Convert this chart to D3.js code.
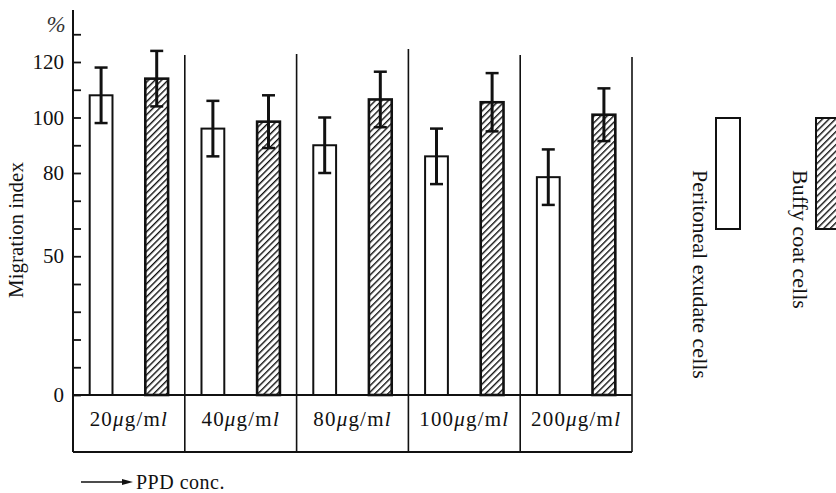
<!DOCTYPE html>
<html>
<head>
<meta charset="utf-8">
<script src="https://cdn.jsdelivr.net/npm/d3@7"></script>
<style>
  body { margin: 0; background: #fff; }
  svg { display: block; font-family: "Liberation Serif", "DejaVu Serif", serif; }
</style>
</head>
<body>
<svg id="chart" width="836" height="493"></svg>
<script>
// PPD concentrations (µg/ml)
var concs = ["20", "40", "80", "100", "200"];
var series = ["Peritoneal exudate cells", "Buffy coat cells"];

// migration index (%) and error half-widths
var peritoneal = [108, 96, 90, 86, 78.5];
var peritonealErr = [10, 10, 10, 10, 10];
var buffy = [114, 98.5, 106.5, 105.5, 101];
var buffyErr = [10, 9.5, 10, 10.5, 9.5];

var labeledTicks = [0, 50, 80, 100, 120];
var allTicks = d3.range(0, 131, 10);

var svg = d3.select("#chart");

var defs = svg.append("defs");
var hatch = defs.append("pattern")
    .attr("id", "hatch")
    .attr("patternUnits", "userSpaceOnUse")
    .attr("width", 4.6)
    .attr("height", 4.6)
    .attr("patternTransform", "rotate(45)");
hatch.append("rect").attr("width", 4.6).attr("height", 4.6).attr("fill", "#fff");
hatch.append("line")
    .attr("x1", 0).attr("y1", 0).attr("x2", 0).attr("y2", 4.6)
    .attr("stroke", "#111").attr("stroke-width", 2.8);

var left = 73, baseY = 395, boxBottom = 452, right = 632;

var x = d3.scaleBand().domain(concs).range([left, right]);
var inner = d3.scaleBand().domain(series).range([0, x.bandwidth()])
    .paddingInner(0.59).paddingOuter(0.3);
var y = d3.scaleLinear().domain([0, 130]).range([baseY, 34.25]);

var rows = concs.map(function(c, i) {
    return [
        {conc: c, s: series[0], v: peritoneal[i], e: peritonealErr[i]},
        {conc: c, s: series[1], v: buffy[i], e: buffyErr[i]}
    ];
});
var flat = d3.merge(rows);

// group separators (run through the label box)
svg.append("g").selectAll("line")
    .data(concs)
    .join("line")
    .attr("x1", function(d) { return x(d) + x.bandwidth(); })
    .attr("x2", function(d) { return x(d) + x.bandwidth(); })
    .attr("y1", function(d, i) { return [55, 54, 49, 55, 57][i]; })
    .attr("y2", boxBottom)
    .attr("stroke", "#111")
    .attr("stroke-width", 1.6);

// bars
svg.append("g").selectAll("rect")
    .data(flat)
    .join("rect")
    .attr("x", function(d) { return x(d.conc) + inner(d.s); })
    .attr("y", function(d) { return y(d.v); })
    .attr("width", inner.bandwidth())
    .attr("height", function(d) { return baseY - y(d.v); })
    .attr("fill", function(d) { return d.s === series[0] ? "#fff" : "url(#hatch)"; })
    .attr("stroke", "#111")
    .attr("stroke-width", function(d) { return d.s === series[0] ? 2 : 2.6; });

// error bars
var err = svg.append("g").selectAll("g")
    .data(flat)
    .join("g")
    .attr("transform", function(d) {
        return "translate(" + (x(d.conc) + inner(d.s) + inner.bandwidth() / 2) + ",0)";
    });
err.append("line")
    .attr("y1", function(d) { return y(d.v + d.e); })
    .attr("y2", function(d) { return y(d.v - d.e); })
    .attr("stroke", "#111")
    .attr("stroke-width", 3);
err.append("line")
    .attr("x1", -6.5).attr("x2", 6.5)
    .attr("y1", function(d) { return y(d.v + d.e); })
    .attr("y2", function(d) { return y(d.v + d.e); })
    .attr("stroke", "#111")
    .attr("stroke-width", 2.5);
err.append("line")
    .attr("x1", -6.5).attr("x2", 6.5)
    .attr("y1", function(d) { return y(d.v - d.e); })
    .attr("y2", function(d) { return y(d.v - d.e); })
    .attr("stroke", "#111")
    .attr("stroke-width", 2.5);

// y axis, ticks point inward
var yAxis = d3.axisLeft(y)
    .tickValues(allTicks)
    .tickSize(-8)
    .tickPadding(9)
    .tickFormat(function(d) { return labeledTicks.indexOf(d) >= 0 ? d : ""; });
var ag = svg.append("g")
    .attr("transform", "translate(" + left + ",0)")
    .call(yAxis);
ag.select(".domain").remove();
ag.selectAll(".tick line").attr("stroke", "#111").attr("stroke-width", 1.8);
ag.selectAll(".tick text")
    .attr("font-family", "Liberation Serif")
    .attr("font-size", 21)
    .attr("fill", "#111");

svg.append("line")
    .attr("x1", left).attr("x2", left)
    .attr("y1", 10).attr("y2", boxBottom)
    .attr("stroke", "#111").attr("stroke-width", 2);

// baseline and label box
svg.append("line")
    .attr("x1", left).attr("x2", right)
    .attr("y1", baseY).attr("y2", baseY)
    .attr("stroke", "#111").attr("stroke-width", 2.2);
svg.append("line")
    .attr("x1", left).attr("x2", right)
    .attr("y1", boxBottom).attr("y2", boxBottom)
    .attr("stroke", "#111").attr("stroke-width", 2);

var catText = svg.append("g").selectAll("text")
    .data(concs)
    .join("text")
    .attr("x", function(d) { return x(d) + x.bandwidth() / 2; })
    .attr("y", 426)
    .attr("text-anchor", "middle")
    .attr("font-size", 21)
    .attr("letter-spacing", 1.2)
    .attr("fill", "#111");
catText.append("tspan").text(function(d) { return d; });
catText.append("tspan").attr("font-style", "italic").text("μ");
catText.append("tspan").text("g/m");
catText.append("tspan").attr("font-style", "italic").text("l");

// axis titles
svg.append("text")
    .attr("x", 56).attr("y", 32)
    .attr("text-anchor", "middle")
    .attr("font-size", 23)
    .attr("font-style", "italic")
    .attr("fill", "#333")
    .text("%");

svg.append("text")
    .attr("transform", "translate(23,230) rotate(-90)")
    .attr("text-anchor", "middle")
    .attr("font-size", 21)
    .attr("fill", "#111")
    .text("Migration index");

svg.append("line")
    .attr("x1", 81).attr("x2", 124)
    .attr("y1", 482).attr("y2", 482)
    .attr("stroke", "#111").attr("stroke-width", 1.5);
svg.append("path")
    .attr("d", "M 122 479 L 133 482 L 122 485 Z")
    .attr("fill", "#111");
svg.append("text")
    .attr("x", 136).attr("y", 489)
    .attr("font-size", 20)
    .attr("letter-spacing", 0.5)
    .attr("fill", "#111")
    .text("PPD  conc.");

// legend
var legend = svg.append("g").selectAll("g")
    .data(series)
    .join("g")
    .attr("transform", function(d, i) { return "translate(" + (716 + i * 100) + ",118)"; });
legend.append("rect")
    .attr("width", 24)
    .attr("height", 111)
    .attr("fill", function(d, i) { return i === 0 ? "#fff" : "url(#hatch)"; })
    .attr("stroke", "#111")
    .attr("stroke-width", 2);
legend.append("text")
    .attr("transform", "translate(-23,52) rotate(90)")
    .attr("font-size", 22)
    .attr("fill", "#111")
    .text(function(d) { return d; });
</script>
</body>
</html>
